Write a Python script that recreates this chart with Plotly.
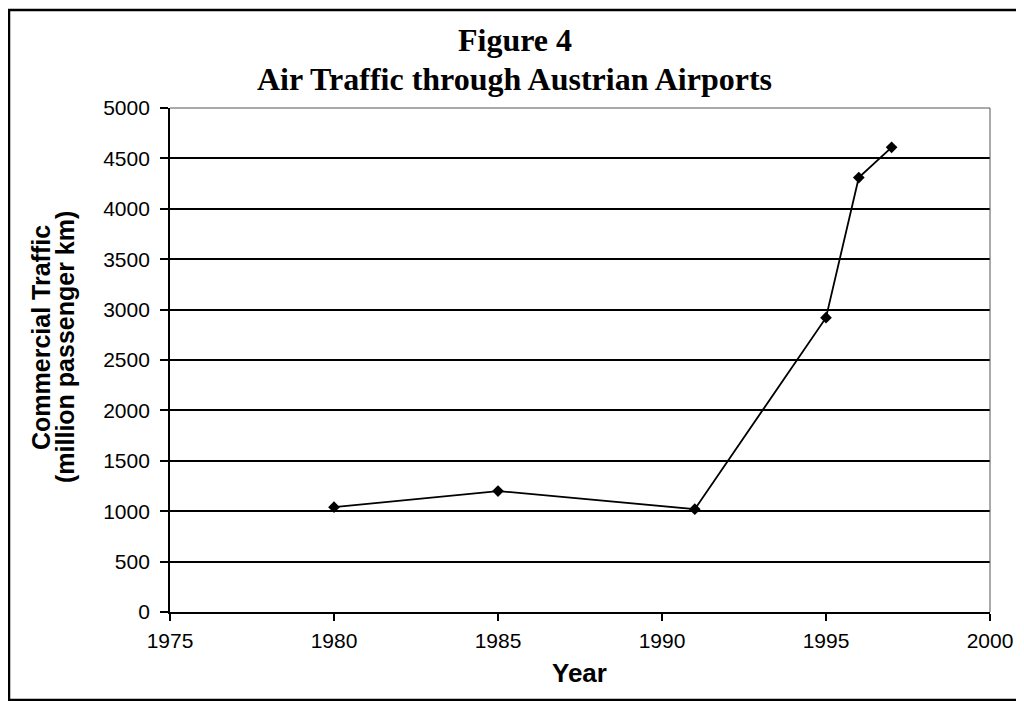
import plotly.graph_objects as go

years = [1980, 1985, 1991, 1995, 1996, 1997]
traffic = [1040, 1200, 1020, 2920, 4310, 4610]

x_ticks = [1975, 1980, 1985, 1990, 1995, 2000]
y_ticks = [0, 500, 1000, 1500, 2000, 2500, 3000, 3500, 4000, 4500, 5000]

# the page adds an 8px body margin, so the figure sits 8px in from the corner
OFF = 8
W, H = 1016, 693
L, R, T, B = 170 - OFF, 34, 108 - OFF, 89


def px_to_paper(x, y):
    # pixel position in the screenshot -> paper coordinates of the plot area
    x, y = x - OFF, y - OFF
    return (x - L) / (W - L - R), (H - B - y) / (H - T - B)


sans = 'Liberation Sans, Arial'
serif = 'Liberation Serif, Times New Roman'

fig = go.Figure()
fig = fig.add_trace(
    go.Scatter(
        x=years,
        y=traffic,
        mode='lines+markers',
        line=dict(color='black', width=1.8),
        marker=dict(symbol='diamond', size=9, color='black'),
        showlegend=False
    )
)

fig = fig.update_xaxes(
    range=[1975, 2000],
    tickvals=x_ticks,
    ticks='outside', ticklen=7, tickcolor='black', tickwidth=1.5,
    showline=True, linecolor='black', linewidth=1.8,
    showgrid=False, zeroline=False,
    tickfont=dict(family=sans, size=21, color='black'),
    ticklabelstandoff=2,
    title=None
)
fig = fig.update_yaxes(
    range=[0, 5000],
    tickvals=y_ticks,
    ticks='outside', ticklen=8, tickcolor='black', tickwidth=1.5,
    showline=True, linecolor='black', linewidth=1.8,
    showgrid=True, gridcolor='black', gridwidth=1.8,
    zeroline=False,
    tickfont=dict(family=sans, size=21, color='black'),
    ticklabelstandoff=6,
    title=None
)

# outer frame and the thin top/right border of the plot area
x0, y0 = px_to_paper(OFF + 1, 10)
x1, y1 = px_to_paper(1021, 700)
shapes = [
    dict(type='rect', xref='paper', yref='paper', x0=x0, y0=y0, x1=x1, y1=y1,
         line=dict(color='black', width=2.5), layer='below'),
    dict(type='line', xref='paper', yref='paper', x0=0, y0=1, x1=1, y1=1,
         line=dict(color='#555555', width=1)),
    dict(type='line', xref='paper', yref='paper', x0=1, y0=0, x1=1, y1=1,
         line=dict(color='#555555', width=1)),
]


def label(text, x, y, size, family, angle=0):
    ax, ay = px_to_paper(x, y)
    return dict(text=text, x=ax, y=ay, xref='paper', yref='paper',
                xanchor='center', yanchor='middle', showarrow=False,
                textangle=angle, font=dict(family=family, size=size, color='black'))


annotations = [
    label('<b>Figure 4</b>', 515, 40, 32, serif),
    label('<b>Air Traffic through Austrian Airports</b>', 514, 79, 32, serif),
    label('<b>Year</b>', 579, 673, 26, sans),
    label('<b>Commercial Traffic</b>', 41, 338, 25, sans, angle=-90),
    label('<b>(million passenger km)</b>', 65, 347, 25, sans, angle=-90),
]

fig = fig.update_layout(
    width=W, height=H,
    margin=dict(l=L, r=R, t=T, b=B),
    paper_bgcolor='white',
    plot_bgcolor='white',
    shapes=shapes,
    annotations=annotations
)

fig.write_html("out.html")
